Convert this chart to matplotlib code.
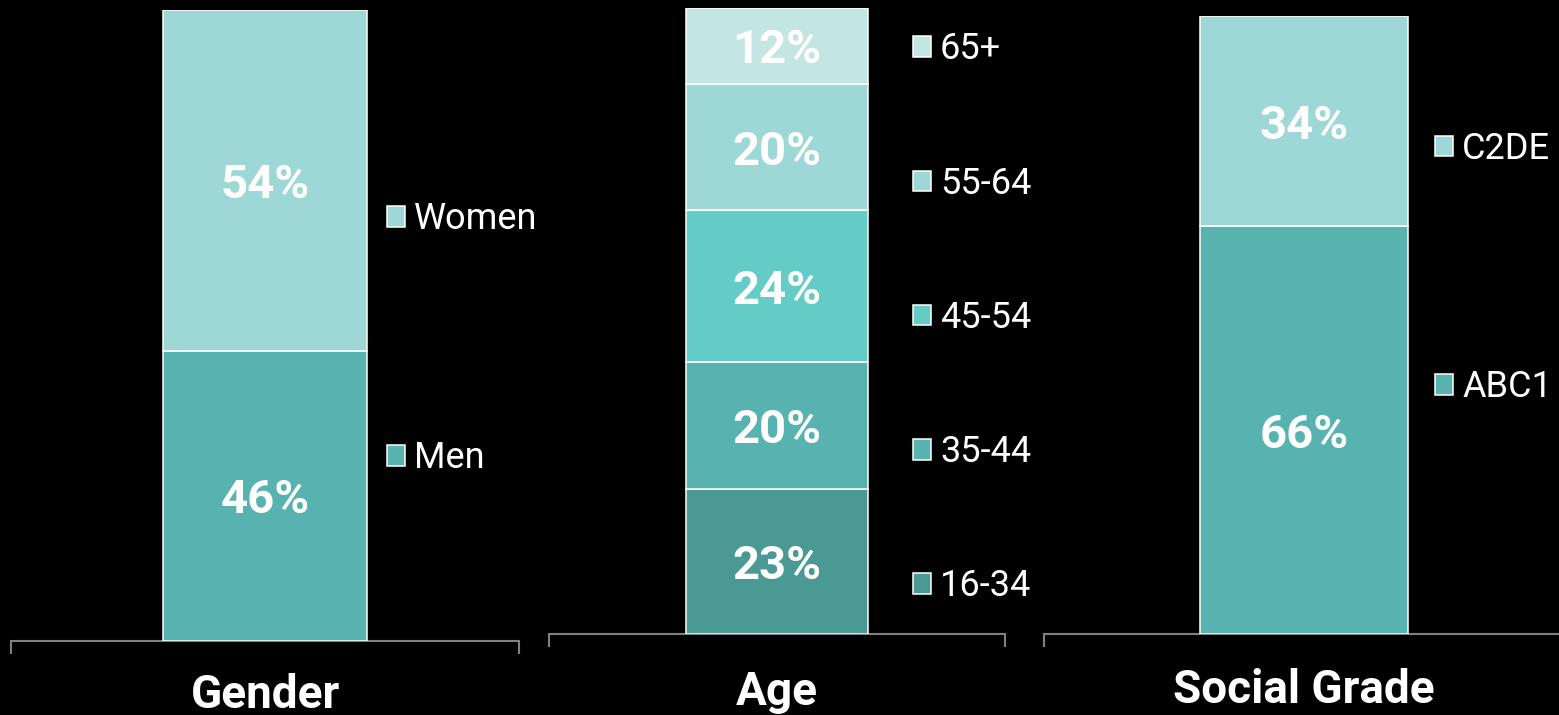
import matplotlib.pyplot as plt

plt.rcParams['font.family'] = ['Roboto', 'DejaVu Sans']

# audience profile, % of respondents
gender_labels = ['Men', 'Women']
gender_values = [46, 54]
gender_colors = ['#58b3b0', '#9dd8d6']

age_labels = ['16-34', '35-44', '45-54', '55-64', '65+']
age_values = [23, 20, 24, 20, 12]
age_colors = ['#4a9993', '#58b3b0', '#64cbc6', '#9dd8d6', '#c3e6e3']

grade_labels = ['ABC1', 'C2DE']
grade_values = [66, 34]
grade_colors = ['#58b3b0', '#9dd8d6']

panels = [
    ('Gender', gender_labels, gender_values, gender_colors,
     [0.0071, 0.1035, 0.3258, 0.8825], (0.740, 0.479), 5.63, -0.085),
    ('Age', age_labels, age_values, age_colors,
     [0.3521, 0.1133, 0.2925, 0.8755], (0.798, 0.505), 2.72, -0.092),
    ('Social Grade', grade_labels, grade_values, grade_colors,
     [0.6697, 0.1133, 0.3335, 0.8643], (0.752, 0.592), 5.61, -0.090),
]

fig = plt.figure(figsize=(15.59, 7.15), dpi=100, facecolor='black')

for title, labels, values, colors, pos, leg_xy, spacing, title_y in panels:
    ax = fig.add_axes(pos)
    ax.set_facecolor('black')
    bottom = 0
    for lab, val, col in zip(labels, values, colors):
        ax.bar(0, val, width=0.4, bottom=bottom, color=col,
               edgecolor='white', linewidth=1.1, label=lab)
        # value label in the middle of the segment
        ax.text(0, bottom + val / 2, f'{val}%', ha='center',
                va='center_baseline', color='white', fontsize=34,
                fontweight='bold')
        bottom += val
    ax.set_xlim(-0.5, 0.5)
    ax.set_ylim(0, sum(values))

    for side in ['top', 'left', 'right']:
        ax.spines[side].set_visible(False)
    ax.spines['bottom'].set_color('#808080')
    ax.spines['bottom'].set_linewidth(1.5)
    ax.spines['bottom'].set_zorder(0)
    ax.set_yticks([])
    ax.set_xticks([-0.5, 0.5])
    ax.set_xticklabels([])
    ax.tick_params(axis='x', length=9.5, width=1.5, color='#808080')

    ax.text(0.5, title_y, title, transform=ax.transAxes, ha='center',
            va='center', color='white', fontsize=33, fontweight='bold')

    handles, names = ax.get_legend_handles_labels()
    ax.legend(handles[::-1], names[::-1], loc='center left',
              bbox_to_anchor=leg_xy, frameon=False, fontsize=26,
              labelcolor='white', handlelength=0.5, handleheight=0.5,
              handletextpad=0.25, labelspacing=spacing,
              borderpad=0, borderaxespad=0)

fig.savefig('out.png', dpi=100, facecolor='black')
